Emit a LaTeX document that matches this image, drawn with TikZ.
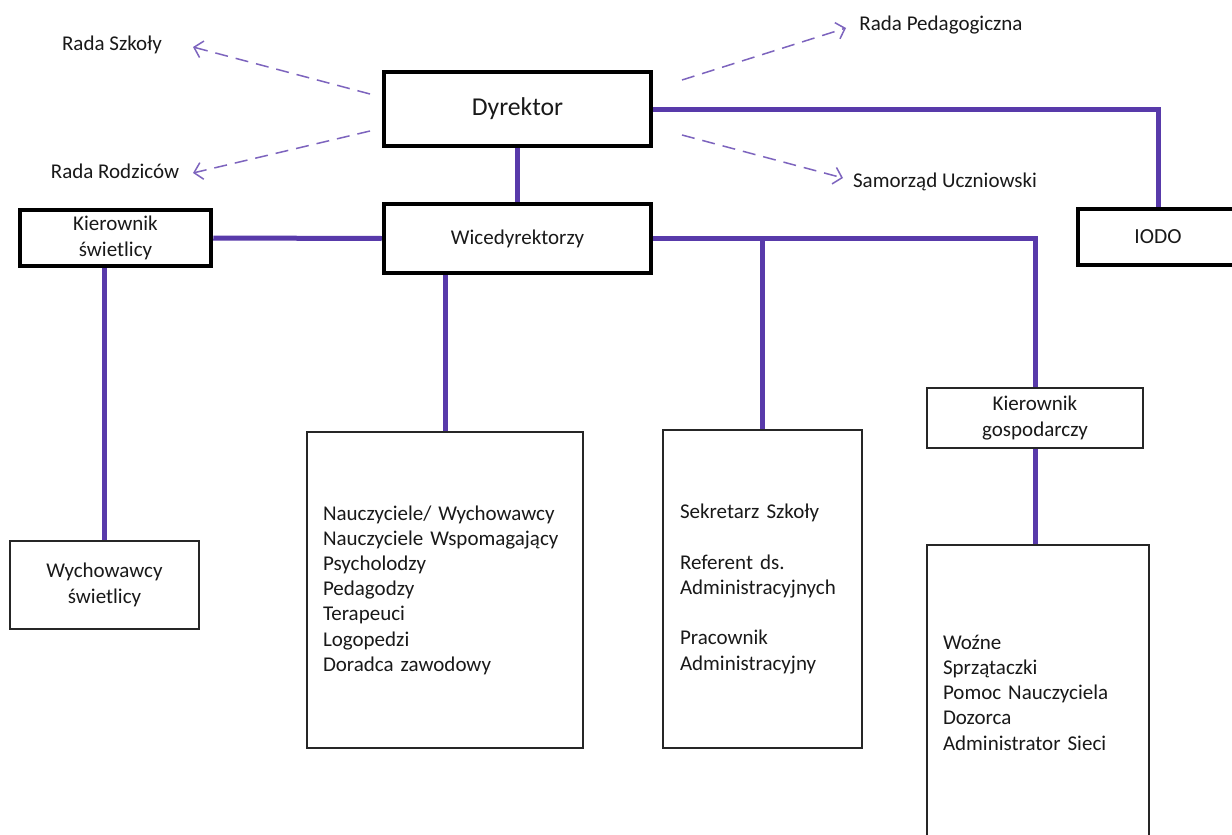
\documentclass[tikz,border=0pt]{standalone}
\usepackage{fontspec}
\setmainfont{Carlito}
\usetikzlibrary{arrows.meta}
\definecolor{lineP}{RGB}{88,58,170}
\definecolor{dashP}{RGB}{125,100,190}
\definecolor{ink}{RGB}{25,25,25}
\begin{document}
\begin{tikzpicture}[x=1pt,y=-1pt,
  thickbox/.style={draw=black, line width=4.5pt, fill=white, inner sep=0pt, text=ink},
  thinbox/.style={draw=black!85, line width=1.6pt, fill=white, inner sep=0pt, text=ink},
  conn/.style={draw=lineP, line width=5pt},
  rel/.style={draw=dashP, line width=1.5pt, dash pattern=on 13pt off 8pt,
    -{Straight Barb[length=8pt,width=17pt,line width=1.5pt]}},
  lbl/.style={font=\fontsize{21}{25}\selectfont, inner sep=0pt, text=ink},
  listtext/.style={font=\fontsize{21}{25.2}\selectfont, align=left},
  boxtext/.style={font=\fontsize{21}{26}\selectfont, align=center}
]
\useasboundingbox (0,0) rectangle (1232,835);
\clip (0,0) rectangle (1232,835);
\fill[white] (0,0) rectangle (1232,835);

% labels
\node[lbl] (rs) at (112,45) {Rada Szkoły};
\node[lbl] (rr) at (115,171) {Rada Rodziców};
\node[lbl] (rp) at (941,25) {Rada Pedagogiczna};
\node[lbl] (su) at (945,182) {Samorząd Uczniowski};

% boxes
\node[thickbox, minimum width=267, minimum height=74, font=\fontsize{25.7}{30}\selectfont] (dyr) at (517.5,109) {Dyrektor};
\node[thickbox, minimum width=267, minimum height=69, font=\fontsize{21}{25}\selectfont] (wice) at (517.5,238.5) {Wicedyrektorzy};
\node[thickbox, minimum width=191, minimum height=56, boxtext] (kier) at (115.5,238) {Kierownik\\świetlicy};
\node[thickbox, minimum width=160, minimum height=56, font=\fontsize{21.5}{25}\selectfont] (iodo) at (1158,237) {IODO};

\node[thinbox, minimum width=189, minimum height=88, boxtext, font=\fontsize{21}{25.5}\selectfont] (wych) at (104.5,585) {Wychowawcy\\świetlicy};
\node[thinbox, minimum width=276, minimum height=316, text width=244, listtext] (naucz) at (445,590)
  {Nauczyciele/ Wychowawcy\\Nauczyciele Wspomagający\\Psycholodzy\\Pedagodzy\\Terapeuci\\Logopedzi\\Doradca zawodowy};
\node[thinbox, minimum width=199, minimum height=318, text width=165, listtext] (sek) at (762.5,589)
  {Sekretarz Szkoły\\[25.2pt]Referent ds.\\Administracyjnych\\[25.2pt]Pracownik\\Administracyjny};
\node[thinbox, minimum width=216, minimum height=60, boxtext, font=\fontsize{21}{25.5}\selectfont] (kg) at (1035,418) {Kierownik\\gospodarczy};
\node[thinbox, minimum width=222, minimum height=295, text width=190, listtext] (woz) at (1038,692.5)
  {Woźne\\Sprzątaczki\\Pomoc Nauczyciela\\Dozorca\\Administrator Sieci};

% solid connectors
\draw[conn] (dyr.south) -- (wice.north);
\draw[conn] (dyr.east) -| (iodo.north);
\draw[conn] (kier.east) -- (wice.west);
\draw[conn] (wice.east) -| (kg.north);
\draw[conn] (sek.north |- wice.east) -- (sek.north);
\draw[conn] (wice.south -| naucz.north) -- (naucz.north);
\draw[conn] (kier.south -| wych.north) -- (wych.north);
\draw[conn] (kg.south) -- (kg.south |- woz.north);

% dashed relations
\coordinate (s1) at (370,94);
\coordinate (e1) at (193,47);
\coordinate (s2) at (370,131);
\coordinate (e2) at (193,173);
\coordinate (s3) at (682,80);
\coordinate (e3) at (846,28);
\coordinate (s4) at (682,135);
\coordinate (e4) at (843,178);
\draw[rel] (s1) -- (e1);
\draw[rel] (s2) -- (e2);
\draw[rel] (s3) -- (e3);
\draw[rel] (s4) -- (e4);
\end{tikzpicture}
\end{document}
